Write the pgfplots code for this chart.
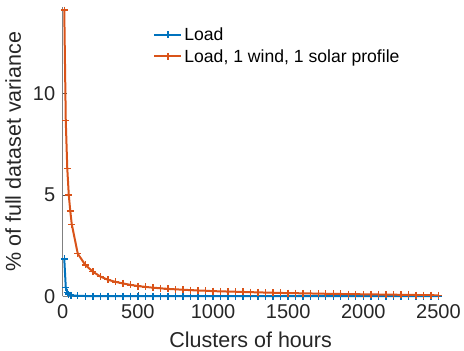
\documentclass[border=0pt]{standalone}
\usepackage{pgfplots}
\pgfplotsset{compat=1.18}
\usepackage{fontspec}
\setmainfont{Liberation Sans}
\definecolor{mblue}{rgb}{0,0.447,0.741}
\definecolor{morange}{rgb}{0.85,0.325,0.098}
\definecolor{txt}{rgb}{0.15,0.15,0.15}
\begin{document}
\begin{tikzpicture}
\begin{axis}[
  scale only axis,
  width=374.5bp, height=288.5bp,
  xmin=0, xmax=2500, ymin=0, ymax=14.25,
  axis lines=left,
  axis line style={black!50, line width=0.6pt, -},
  xtick={0,500,1000,1500,2000,2500},
  ytick={0,5,10},
  tick align=inside,
  major tick length=4bp,
  tick style={black!70, line width=0.6pt},
  /pgf/number format/assume math mode=true,
  /pgf/number format/1000 sep={},
  ticklabel style={font=\fontsize{20}{22}\selectfont, text=txt},
  xticklabel style={yshift=-5bp},
  yticklabel style={xshift=-4bp},
  xlabel={Clusters of hours},
  ylabel={\% of full dataset variance},
  label style={font=\fontsize{21.5}{24}\selectfont, text=txt},
  xlabel style={inner sep=3bp, yshift=-6.5bp},
  ylabel style={yshift=5bp},
  clip=false,
  legend style={draw=none, fill=none, at={(0.238,0.94)}, anchor=north west,
    font=\fontsize{17.6}{20}\selectfont, text=black, row sep=3.5bp,
    inner sep=1bp},
  legend cell align=left,
  legend image code/.code={\draw[#1] (0cm,0cm) -- (0.95cm,0cm); \draw[#1, mark repeat=1] plot coordinates {(0.475cm,0cm)};},
]
\addplot[mblue, line width=2pt, mark=+, mark size=3.5pt, mark options={line width=1.4pt}] coordinates {
(10,1.85)(20,0.45)(30,0.2)(40,0.11)(50,0.07)(60,0.05)(100,0.03)(150,0.02)(200,0.015)
(250,0.012)(300,0.01)(350,0.01)(400,0.01)(450,0.01)(500,0.01)(550,0.01)(600,0.01)(650,0.01)
(700,0.01)(750,0.01)(800,0.01)(850,0.01)(900,0.01)(950,0.01)(1000,0.01)(1050,0.01)(1100,0.01)
(1150,0.01)(1200,0.01)(1250,0.01)(1300,0.01)(1350,0.01)(1400,0.01)(1450,0.01)(1500,0.01)
(1550,0.01)(1600,0.01)(1650,0.01)(1700,0.01)(1750,0.01)(1800,0.01)(1850,0.01)(1900,0.01)
(1950,0.01)(2000,0.01)(2050,0.01)(2100,0.01)(2150,0.01)(2200,0.01)(2250,0.01)(2300,0.01)
(2350,0.01)(2400,0.01)(2450,0.01)(2500,0.01)
};
\addlegendentry{Load}
\addplot[morange, line width=2pt, mark=+, mark size=3.5pt, mark options={line width=1.4pt}] coordinates {
(10,14.1)(20,8.65)(30,6.3)(40,5.0)(50,4.2)(60,3.55)(100,2.1)(150,1.55)(200,1.22)(250,0.98)
(300,0.82)(350,0.72)(400,0.64)(450,0.57)(500,0.51)(550,0.47)(600,0.43)(650,0.40)(700,0.37)
(750,0.35)(800,0.33)(850,0.31)(900,0.29)(950,0.28)(1000,0.26)(1050,0.25)(1100,0.24)(1150,0.23)
(1200,0.22)(1250,0.21)(1300,0.20)(1350,0.19)(1400,0.18)(1450,0.17)(1500,0.165)(1550,0.16)
(1600,0.15)(1650,0.145)(1700,0.14)(1750,0.13)(1800,0.125)(1850,0.12)(1900,0.115)(1950,0.11)
(2000,0.105)(2050,0.10)(2100,0.095)(2150,0.09)(2200,0.085)(2250,0.08)(2300,0.075)(2350,0.07)
(2400,0.065)(2450,0.06)(2500,0.055)
};
\addlegendentry{Load, 1 wind, 1 solar profile}
\end{axis}
\path ([yshift=7bp]current axis.north);
\path (current bounding box.west) ++(-2bp,0);
\end{tikzpicture}
\end{document}
